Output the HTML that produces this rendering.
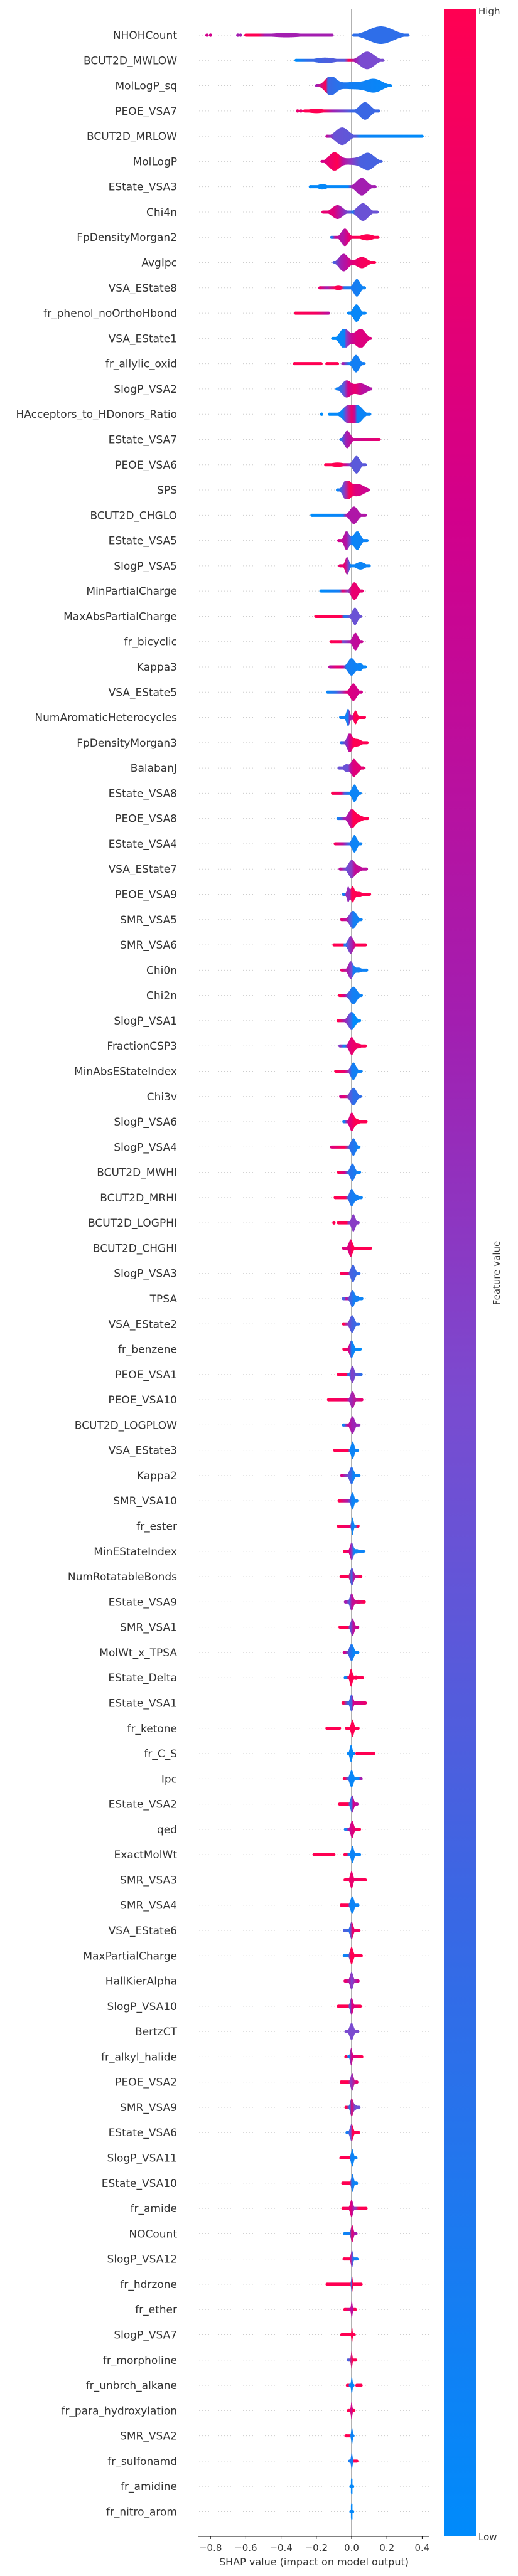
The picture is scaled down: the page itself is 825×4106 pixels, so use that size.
<!DOCTYPE html>
<html>
<head>
<meta charset="utf-8">
<style>
  html,body{margin:0;padding:0;background:#fff;}
  body{width:825px;height:4101px;overflow:hidden;}
  svg text{font-family:"DejaVu Sans","Liberation Sans",sans-serif;}
</style>
</head>
<body>
<svg id="chart" width="825" height="4101" viewBox="0 0 825 4101" xmlns="http://www.w3.org/2000/svg">
  <defs>
    <linearGradient id="cbar" x1="0" y1="0" x2="0" y2="1">
      <stop offset="0" stop-color="#ff0052"/>
      <stop offset="0.2" stop-color="#d2008b"/>
      <stop offset="0.4" stop-color="#a31eb0"/>
      <stop offset="0.55" stop-color="#7a4bd0"/>
      <stop offset="0.75" stop-color="#3a67e4"/>
      <stop offset="1" stop-color="#008bfb"/>
    </linearGradient>
  </defs>
  <g id="grid"></g>
  <line x1="560" y1="15" x2="560" y2="4043" stroke="#999" stroke-width="1.5"/>
  <g id="violins"></g>
  <g id="labels"></g>
  <g id="xaxis">
    <line x1="316" y1="4043" x2="684" y2="4043" stroke="#000" stroke-width="1"/>
  </g>
  <text x="500" y="4089" font-size="16" fill="#333" text-anchor="middle">SHAP value (impact on model output)</text>
  <rect x="707" y="15" width="51" height="4028" fill="url(#cbar)"/>
  <text x="762" y="23" font-size="15" fill="#333">High</text>
  <text x="762" y="4049" font-size="15" fill="#333">Low</text>
  <text x="0" y="0" font-size="15" fill="#333" text-anchor="middle" transform="translate(796,2029) rotate(-90)">Feature value</text>
</svg>
<script>
const features=["NHOHCount","BCUT2D_MWLOW","MolLogP_sq","PEOE_VSA7","BCUT2D_MRLOW","MolLogP","EState_VSA3","Chi4n","FpDensityMorgan2","AvgIpc","VSA_EState8","fr_phenol_noOrthoHbond","VSA_EState1","fr_allylic_oxid","SlogP_VSA2","HAcceptors_to_HDonors_Ratio","EState_VSA7","PEOE_VSA6","SPS","BCUT2D_CHGLO","EState_VSA5","SlogP_VSA5","MinPartialCharge","MaxAbsPartialCharge","fr_bicyclic","Kappa3","VSA_EState5","NumAromaticHeterocycles","FpDensityMorgan3","BalabanJ","EState_VSA8","PEOE_VSA8","EState_VSA4","VSA_EState7","PEOE_VSA9","SMR_VSA5","SMR_VSA6","Chi0n","Chi2n","SlogP_VSA1","FractionCSP3","MinAbsEStateIndex","Chi3v","SlogP_VSA6","SlogP_VSA4","BCUT2D_MWHI","BCUT2D_MRHI","BCUT2D_LOGPHI","BCUT2D_CHGHI","SlogP_VSA3","TPSA","VSA_EState2","fr_benzene","PEOE_VSA1","PEOE_VSA10","BCUT2D_LOGPLOW","VSA_EState3","Kappa2","SMR_VSA10","fr_ester","MinEStateIndex","NumRotatableBonds","EState_VSA9","SMR_VSA1","MolWt_x_TPSA","EState_Delta","EState_VSA1","fr_ketone","fr_C_S","Ipc","EState_VSA2","qed","ExactMolWt","SMR_VSA3","SMR_VSA4","VSA_EState6","MaxPartialCharge","HallKierAlpha","SlogP_VSA10","BertzCT","fr_alkyl_halide","PEOE_VSA2","SMR_VSA9","EState_VSA6","SlogP_VSA11","EState_VSA10","fr_amide","NOCount","SlogP_VSA12","fr_hdrzone","fr_ether","SlogP_VSA7","fr_morpholine","fr_unbrch_alkane","fr_para_hydroxylation","SMR_VSA2","fr_sulfonamd","fr_amidine","fr_nitro_arom"];

const xTicks=[-0.8,-0.6,-0.4,-0.2,0.0,0.2,0.4];
const xTickLabels=["\u22120.8","\u22120.6","\u22120.4","\u22120.2","0.0","0.2","0.4"];

// density bumps per feature: [mean, sd, half-height]
const bumps=[
[[0.166,0.07,14],[-0.37,0.1,3.5]],
[[0.088,0.04,14],[-0.15,0.06,4.5]],
[[-0.12,0.03,14],[0.0,0.08,5.5],[0.13,0.045,9.5]],
[[0.076,0.03,14],[-0.2,0.05,3.5]],
[[-0.054,0.035,14]],
[[-0.099,0.03,14],[0.0,0.05,5],[0.094,0.035,13]],
[[0.058,0.03,14],[-0.165,0.025,4.5]],
[[-0.08,0.03,11],[0.064,0.03,14]],
[[-0.038,0.02,14],[0.088,0.035,5]],
[[-0.045,0.025,14],[0.058,0.03,9]],
[[0.03,0.018,14],[-0.075,0.025,3.5]],
[[0.028,0.018,14]],
[[-0.045,0.022,13],[0.055,0.025,13],[0.0,0.04,6]],
[[0.025,0.018,14]],
[[-0.03,0.025,13],[0.05,0.035,9]],
[[-0.02,0.03,14],[0.04,0.025,12]],
[[-0.025,0.018,14]],
[[0.028,0.018,14],[-0.08,0.04,3.5]],
[[-0.03,0.018,14],[0.03,0.04,10]],
[[0.013,0.022,14]],
[[-0.03,0.013,14],[0.034,0.017,14],[0,0.02,4]],
[[-0.026,0.011,14],[0.05,0.025,6]],
[[0.016,0.018,14]],
[[0.019,0.015,14]],
[[0.022,0.015,14]],
[[0.0,0.02,14],[0.05,0.012,6]],
[[0.01,0.018,14]],
[[-0.02,0.01,14],[0.022,0.01,11]],
[[-0.012,0.014,14],[0.03,0.025,6]],
[[-0.03,0.015,6],[0.012,0.014,14],[0.04,0.012,5]],
[[0.016,0.014,14]],
[[0.0,0.018,14],[0.04,0.025,5]],
[[0.016,0.014,14]],
[[0.0,0.018,14],[0.04,0.02,4]],
[[-0.02,0.007,12],[0.005,0.01,12],[0.04,0.02,4]],
[[0.008,0.02,14]],
[[-0.005,0.015,14]],
[[-0.005,0.014,14],[0.04,0.018,4]],
[[0.01,0.02,14]],
[[0.0,0.02,14]],
[[0.0,0.014,14],[0.04,0.018,3.5]],
[[0.01,0.015,14]],
[[0.01,0.018,14]],
[[0.0,0.012,14],[0.03,0.018,4]],
[[0.01,0.014,14]],
[[0.005,0.013,14]],
[[0.0,0.012,14],[0.03,0.012,4]],
[[0.01,0.011,14]],
[[-0.005,0.011,14]],
[[0.008,0.012,14]],
[[0.005,0.012,14],[0.035,0.008,4]],
[[0.003,0.013,14]],
[[0.0,0.012,14]],
[[0.005,0.01,14]],
[[0.005,0.011,14]],
[[0.005,0.012,14]],
[[0.006,0.009,14]],
[[0.0,0.012,14]],
[[0.005,0.009,14]],
[[0.005,0.006,14]],
[[0.0,0.009,14],[0.03,0.013,3.5]],
[[0.002,0.01,14]],
[[0.0,0.01,14],[0.04,0.013,3.5]],
[[0.005,0.01,14]],
[[0.0,0.012,14]],
[[-0.003,0.007,14],[0.025,0.013,3.5]],
[[0.0,0.009,14]],
[[0.005,0.008,14]],
[[-0.003,0.007,14]],
[[0.0,0.01,14]],
[[0.003,0.009,14]],
[[0.003,0.009,14]],
[[0.005,0.008,14]],
[[0.0,0.008,14]],
[[0.004,0.01,14]],
[[0.0,0.009,14]],
[[0.0,0.009,14]],
[[0.0,0.009,14]],
[[0.0,0.008,14]],
[[0.0,0.011,14]],
[[-0.002,0.006,14]],
[[0.003,0.008,14]],
[[0.0,0.008,14],[0.02,0.01,4]],
[[0.0,0.009,14]],
[[0.004,0.007,14]],
[[0.005,0.007,14]],
[[0.0,0.008,14]],
[[0.003,0.007,14]],
[[0.002,0.006,14]],
[[0.002,0.004,14]],
[[0.001,0.004,14]],
[[0.002,0.003,14]],
[[0.0,0.004,14]],
[[0.001,0.004,14]],
[[0.0,0.004,14]],
[[0.002,0.004,14]],
[[0.001,0.004,14]],
[[0.001,0.006,14]],
[[0.001,0.006,14]]
];

// SHAP-value extents of each violin (segments)
const ranges=[
[[-0.60,-0.11],[0.012,0.32]],[[-0.315,0.178]],[[-0.198,0.22]],[[-0.267,0.154]],[[-0.14,0.40]],
[[-0.168,0.168]],[[-0.234,0.133]],[[-0.162,0.145]],[[-0.114,0.15]],[[-0.10,0.131]],
[[-0.18,0.073]],[[-0.318,-0.13],[-0.017,0.076]],[[-0.107,0.107]],[[-0.324,-0.173],[-0.14,-0.08],[-0.05,0.07]],[[-0.083,0.109]],
[[-0.126,0.103]],[[-0.061,0.157]],[[-0.147,0.078]],[[-0.08,0.096]],[[-0.225,0.078]],
[[-0.073,0.088]],[[-0.066,0.10]],[[-0.174,0.06]],[[-0.203,0.052]],[[-0.117,0.058]],
[[-0.123,0.078]],[[-0.136,0.055]],[[-0.062,0.073]],[[-0.059,0.088]],[[-0.071,0.067]],
[[-0.108,0.048]],[[-0.077,0.09]],[[-0.093,0.052]],[[-0.065,0.084]],[[-0.047,0.102]],
[[-0.056,0.054]],[[-0.10,0.079]],[[-0.056,0.085]],[[-0.068,0.055]],[[-0.077,0.045]],
[[-0.066,0.078]],[[-0.09,0.054]],[[-0.062,0.049]],[[-0.044,0.082]],[[-0.114,0.042]],
[[-0.075,0.045]],[[-0.093,0.055]],[[-0.075,0.037]],[[-0.047,0.109]],[[-0.059,0.042]],
[[-0.047,0.058]],[[-0.047,0.04]],[[-0.044,0.049]],[[-0.075,0.054]],[[-0.131,0.058]],
[[-0.047,0.042]],[[-0.096,0.034]],[[-0.056,0.042]],[[-0.071,0.03]],[[-0.077,0.037]],
[[-0.041,0.067]],[[-0.06,0.052]],[[-0.035,0.072]],[[-0.066,0.035]],[[-0.042,0.035]],
[[-0.036,0.061]],[[-0.049,0.078]],[[-0.14,-0.068],[-0.029,0.037]],[[-0.018,0.012],[0.03,0.126]],[[-0.042,0.054]],
[[-0.068,0.031]],[[-0.035,0.045]],[[-0.213,-0.1],[-0.038,0.045]],[[-0.037,0.078]],[[-0.059,0.036]],
[[-0.041,0.042]],[[-0.042,0.055]],[[-0.037,0.037]],[[-0.075,0.049]],[[-0.032,0.035]],
[[-0.018,0.058]],[[-0.059,0.03]],[[-0.032,0.042]],[[-0.026,0.04]],[[-0.061,0.025]],
[[-0.05,0.028]],[[-0.049,0.082]],[[-0.04,0.025]],[[-0.043,0.031]],[[-0.139,0.054]],
[[-0.038,0.021]],[[-0.056,0.015]],[[-0.02,0.024]],[[-0.024,-0.011],[-0.008,0.008],[0.03,0.054]],[[-0.018,0.013]],
[[-0.032,0.008]],[[-0.011,0.03]],[[-0.004,0.006]],[[-0.004,0.006]]
];

// feature-value colour along SHAP axis: [shap, value 0(low)..1(high)]
const colorStops=[
[[-0.6,1],[-0.53,1],[-0.49,0.6],[-0.11,0.6],[0.01,0.2],[0.32,0.2]],
[[-0.315,0],[-0.25,0.2],[-0.15,0.3],[-0.04,0.35],[-0.015,1],[0.02,0.6],[0.05,0.45],[0.178,0.45]],
[[-0.198,0.6],[-0.145,1],[-0.135,0.25],[0,0.08],[0.22,0.02]],
[[-0.267,1],[-0.16,1],[-0.11,0.6],[-0.02,0.35],[0.0,0.25],[0.154,0.25]],
[[-0.14,0.7],[-0.1,0.4],[0.02,0.35],[0.05,0.05],[0.4,0.0]],
[[-0.168,0.8],[-0.13,0.9],[-0.08,1],[-0.05,0.7],[0,0.5],[0.05,0.3],[0.168,0.28]],
[[-0.234,0.02],[-0.02,0.02],[0.0,0.6],[0.133,0.6]],
[[-0.162,0.9],[-0.1,0.85],[-0.06,0.6],[-0.01,0.35],[0.005,0.1],[0.02,0.4],[0.145,0.4]],
[[-0.114,0.15],[-0.09,0.75],[-0.05,0.65],[-0.02,0.85],[0.0,0.95],[0.03,1],[0.15,1]],
[[-0.1,0.3],[-0.06,0.6],[-0.03,0.7],[0,0.85],[0.05,0.95],[0.131,1]],
[[-0.18,0.9],[-0.14,0.6],[-0.09,1],[-0.06,1],[-0.04,0.15],[0.073,0.05]],
[[-0.318,1],[-0.2,0.95],[-0.13,0.7],[-0.02,0.03],[0.076,0.03]],
[[-0.107,0],[-0.04,0.05],[-0.03,0.5],[0,0.75],[0.03,0.85],[0.107,0.85]],
[[-0.324,1],[-0.08,1],[-0.05,0.6],[-0.015,0.08],[0.07,0.08]],
[[-0.083,0.05],[-0.04,0.4],[-0.02,0.8],[0.02,0.9],[0.06,0.7],[0.109,0.65]],
[[-0.126,0],[-0.05,0.05],[-0.03,0.5],[0,0.9],[0.02,0.7],[0.03,0.05],[0.103,0.05]],
[[-0.061,0.2],[-0.03,0.6],[0,0.75],[0.157,0.9]],
[[-0.147,1],[-0.06,1],[-0.03,0.7],[0,0.35],[0.078,0.35]],
[[-0.08,0.05],[-0.04,0.5],[-0.01,1],[0.02,0.85],[0.096,0.75]],
[[-0.225,0],[-0.05,0.05],[-0.03,0.65],[0.078,0.65]],
[[-0.073,0.8],[-0.03,0.65],[-0.01,0.4],[0,0.05],[0.088,0.05]],
[[-0.066,0.9],[-0.04,0.9],[-0.02,0.5],[-0.005,0.05],[0.1,0.05]],
[[-0.174,0],[-0.07,0.1],[-0.05,0.9],[-0.02,0.5],[0,0.9],[0.06,0.9]],
[[-0.203,1],[-0.06,1],[-0.04,0.1],[-0.01,0.4],[0.052,0.4]],
[[-0.117,1],[-0.06,0.95],[-0.05,0.4],[0,0.7],[0.058,0.75]],
[[-0.123,0.7],[-0.08,0.9],[-0.05,0.8],[-0.03,0.1],[0.078,0.03]],
[[-0.136,0.05],[-0.09,0.2],[-0.06,0.5],[-0.03,0.85],[0.055,0.8]],
[[-0.062,0.05],[-0.02,0.1],[-0.01,0.6],[0.005,0.7],[0.015,1],[0.073,1]],
[[-0.059,0.2],[-0.02,0.6],[-0.01,0.8],[0.01,1],[0.088,1]],
[[-0.071,0.4],[-0.02,0.4],[-0.005,0.7],[0.01,0.85],[0.067,0.9]],
[[-0.108,1],[-0.06,0.9],[-0.04,0.3],[-0.01,0.05],[0.048,0.05]],
[[-0.077,0.1],[-0.04,0.6],[-0.01,0.7],[0.01,1],[0.09,1]],
[[-0.093,0.95],[-0.05,0.7],[-0.02,0.3],[0,0.05],[0.052,0.05]],
[[-0.065,0.7],[-0.03,0.4],[0,0.5],[0.02,0.75],[0.084,0.7]],
[[-0.047,0.1],[-0.03,0.55],[-0.01,0.55],[0,1],[0.102,1]],
[[-0.056,0.85],[-0.03,0.7],[-0.01,0.4],[0.01,0.1],[0.054,0.05]],
[[-0.1,1],[-0.05,1],[-0.04,0.05],[-0.02,0.4],[0.01,0.7],[0.03,1],[0.079,1]],
[[-0.056,0.9],[-0.02,0.6],[0,0.45],[0.01,0.1],[0.085,0.05]],
[[-0.068,1],[-0.04,0.8],[-0.02,0.3],[0,0.1],[0.055,0.05]],
[[-0.077,1],[-0.04,0.6],[-0.01,0.35],[0.01,0],[0.045,0]],
[[-0.066,0.5],[-0.04,0.05],[-0.02,0.8],[0,0.9],[0.078,1]],
[[-0.09,1],[-0.04,0.9],[-0.015,0.5],[0,0.1],[0.054,0.05]],
[[-0.062,0.8],[-0.04,0.9],[-0.01,0.35],[0.01,0.2],[0.049,0.2]],
[[-0.044,0.1],[-0.02,0.8],[0,0.9],[0.02,1],[0.082,1]],
[[-0.114,0.85],[-0.04,1],[-0.01,0.2],[0.042,0.05]],
[[-0.075,1],[-0.04,0.8],[-0.02,0.2],[0.045,0.05]],
[[-0.093,1],[-0.035,1],[-0.02,0.25],[0,0.1],[0.055,0.05]],
[[-0.1,1],[-0.03,1],[-0.015,0.5],[0.037,0.5]],
[[-0.047,0.85],[-0.01,0.85],[0,1],[0.109,1]],
[[-0.059,1],[-0.02,0.9],[-0.01,0.3],[0.042,0.2]],
[[-0.047,0.3],[-0.03,0.7],[-0.01,0.3],[0.01,0.1],[0.058,0.05]],
[[-0.047,1],[-0.02,0.5],[0,0.3],[0.04,0.2]],
[[-0.044,1],[-0.015,0.8],[0,0.05],[0.049,0]],
[[-0.075,1],[-0.03,1],[-0.02,0.05],[0,0.5],[0.054,0.2]],
[[-0.131,1],[-0.03,0.9],[-0.01,0.55],[0.058,0.9]],
[[-0.047,0.1],[-0.02,0.8],[0,0.6],[0.042,0.55]],
[[-0.096,1],[-0.02,1],[-0.01,0.05],[0.034,0.05]],
[[-0.056,0.8],[-0.02,0.4],[0,0.2],[0.01,0.05],[0.042,0.05]],
[[-0.071,1],[-0.02,0.6],[0,0.05],[0.03,0.05]],
[[-0.077,1],[-0.01,0.9],[0,0.05],[0.02,0.05],[0.037,1]],
[[-0.041,1],[-0.01,0.8],[0,0.5],[0.015,0.05],[0.067,0.05]],
[[-0.06,1],[-0.02,1],[0,0.2],[0.01,0.6],[0.052,1]],
[[-0.035,0.6],[-0.01,0.3],[0,0.7],[0.072,1]],
[[-0.066,1],[-0.02,1],[-0.01,0.3],[0.01,0.7],[0.035,0.8]],
[[-0.042,0.8],[-0.01,0.2],[0.01,0.05],[0.035,0.05]],
[[-0.036,0.05],[-0.015,1],[0.061,1]],
[[-0.049,1],[-0.02,0.2],[0,0.3],[0.01,0.8],[0.078,0.9]],
[[-0.14,1],[0.037,1]],
[[-0.018,0.03],[0.012,0.03],[0.03,1],[0.126,1]],
[[-0.042,1],[-0.02,0.3],[-0.01,0.03],[0.04,0.03],[0.054,0.6]],
[[-0.068,1],[-0.02,1],[-0.01,0.1],[0,0.3],[0.01,0.8],[0.031,0.7]],
[[-0.035,0.1],[-0.015,0.7],[0.005,0.85],[0.045,1]],
[[-0.213,1],[-0.03,1],[-0.015,0.05],[0.045,0.05]],
[[-0.037,1],[0,0.9],[0.078,1]],
[[-0.059,1],[-0.02,1],[-0.01,0.05],[0.036,0.05]],
[[-0.041,0.3],[-0.01,0.2],[0.005,0.9],[0.042,0.95]],
[[-0.042,0.05],[-0.02,0.1],[-0.005,1],[0.055,1]],
[[-0.037,0.9],[-0.01,0.6],[0,0.45],[0.037,0.8]],
[[-0.075,1],[-0.02,1],[-0.01,0.2],[0,0.8],[0.049,1]],
[[-0.032,0.45],[0.035,0.45]],
[[-0.032,1],[-0.018,0.05],[0,0.8],[0.058,1]],
[[-0.059,1],[-0.02,1],[-0.005,0.5],[0.03,0.9]],
[[-0.032,1],[-0.01,0.1],[0,0.9],[0.02,0.4],[0.042,0.4]],
[[-0.026,0.1],[-0.005,0.4],[0.005,1],[0.04,1]],
[[-0.061,1],[-0.01,1],[-0.005,0.05],[0.025,0.05]],
[[-0.05,1],[-0.01,1],[0,0.1],[0.028,0.05]],
[[-0.049,1],[-0.01,0.9],[0,0.8],[0.02,0.5],[0.04,1],[0.082,1]],
[[-0.04,0.05],[-0.01,0.1],[0,0.9],[0.025,0.6]],
[[-0.043,1],[-0.01,1],[0,0.5],[0.01,0.1],[0.031,0.05]],
[[-0.139,1],[-0.01,1],[0,0.15],[0.005,1],[0.054,1]],
[[-0.038,1],[-0.005,0.7],[0.005,0.7],[0.021,1]],
[[-0.056,1],[0.015,1]],
[[-0.02,0.3],[0.005,1],[0.024,1]],
[[-0.024,1],[-0.011,1],[-0.008,0.05],[0.008,0.05],[0.03,1],[0.054,1]],
[[-0.018,1],[0,0.75],[0.013,1]],
[[-0.032,1],[-0.01,1],[-0.005,0.05],[0.008,0.05]],
[[-0.011,0.1],[0.008,0.1],[0.012,1],[0.03,1]],
[[-0.004,0.02],[0.006,0.02]],
[[-0.004,0.02],[0.006,0.02]]
];

// isolated outlier dots: [shap, value]
const dots={0:[[-0.82,0.8],[-0.80,0.8],[-0.645,0.6],[-0.63,0.6]],3:[[-0.306,0.9],[-0.287,0.9]],15:[[-0.17,0]],47:[[-0.10,1]],80:[[-0.032,1]]};

const SVGNS="http://www.w3.org/2000/svg";
const X0=560, XS=281, Y0=56, DY=40.28;
function xScale(s){return X0+s*XS;}
function yRow(i){return Y0+i*DY;}
const cmap=[[0,[0,139,251]],[0.25,[58,103,228]],[0.45,[122,75,208]],[0.6,[163,30,176]],[0.8,[210,0,139]],[1,[255,0,82]]];
function colorOf(c){
  c=Math.max(0,Math.min(1,c));
  for(let k=1;k<cmap.length;k++){
    if(c<=cmap[k][0]){
      const a=cmap[k-1],b=cmap[k],t=(c-a[0])/(b[0]-a[0]);
      const r=a[1].map((v,j)=>Math.round(v+(b[1][j]-v)*t));
      return "rgb("+r.join(",")+")";
    }
  }
  return "rgb(255,0,82)";
}
function valAt(stops,s){
  if(s<=stops[0][0])return stops[0][1];
  for(let k=1;k<stops.length;k++){
    if(s<=stops[k][0]){const a=stops[k-1],b=stops[k];const t=(s-a[0])/((b[0]-a[0])||1);return a[1]+(b[1]-a[1])*t;}
  }
  return stops[stops.length-1][1];
}
function mk(tag,attrs){const e=document.createElementNS(SVGNS,tag);for(const k in attrs)e.setAttribute(k,attrs[k]);return e;}

const svg=document.getElementById("chart");
const defs=svg.querySelector("defs");
const grid=document.getElementById("grid");
const vg=document.getElementById("violins");
const lg=document.getElementById("labels");
const xg=document.getElementById("xaxis");

features.forEach((name,i)=>{
  const y=yRow(i);
  const gl=mk("line",{x1:317,x2:687,y1:y,y2:y,stroke:"#cccccc","stroke-width":1,"stroke-dasharray":"1,4"});
  
  
  grid.appendChild(gl);

  const t=mk("text",{x:282,y:y+6,"font-size":"17","text-anchor":"end",fill:"#333"});
  t.textContent=name;
  
  
  lg.appendChild(t);

  // gradient
  const st=colorStops[i];
  const gx1=xScale(st[0][0]), gx2=xScale(st[st.length-1][0]);
  const grad=mk("linearGradient",{id:"g"+i,gradientUnits:"userSpaceOnUse",x1:gx1,y1:0,x2:Math.max(gx2,gx1+1),y2:0});
  const span=(st[st.length-1][0]-st[0][0])||1;
  st.forEach(p=>{grad.appendChild(mk("stop",{offset:((p[0]-st[0][0])/span).toFixed(4),"stop-color":colorOf(p[1])}));});
  defs.appendChild(grad);

  const grp=mk("g",{});
  
  
  ranges[i].forEach(seg=>{
    const xa=xScale(seg[0]), xb=xScale(seg[1]);
    const top=[],bot=[];
    for(let px=xa;px<=xb+0.01;px+=0.5){
      const s=(px-X0)/XS;
      let h=0;
      bumps[i].forEach(b=>{h+=b[2]*Math.exp(-0.5*Math.pow((s-b[0])/b[1],2));});
      h=Math.min(14.5,Math.max(2.5,h));
      top.push(px.toFixed(1)+","+(y-h).toFixed(2));
      bot.unshift(px.toFixed(1)+","+(y+h).toFixed(2));
    }
    const p=mk("path",{d:"M"+top.join(" L")+" L"+bot.join(" L")+" Z",fill:"url(#g"+i+")"});
    grp.appendChild(p);
    [seg[0],seg[1]].forEach(s=>{
      grp.appendChild(mk("circle",{cx:xScale(s),cy:y,r:2.5,fill:colorOf(valAt(st,s))}));
    });
  });
  (dots[i]||[]).forEach(d=>{
    const c=mk("circle",{cx:xScale(d[0]),cy:y,r:2.7,fill:colorOf(d[1])});
    
    
    grp.appendChild(c);
  });
  vg.appendChild(grp);
});

xTicks.forEach((v,k)=>{
  const x=xScale(v);
  const tk=mk("line",{x1:x,x2:x,y1:4043,y2:4047,stroke:"#000","stroke-width":1});
  
  
  xg.appendChild(tk);
  const tl=mk("text",{x:x,y:4066,"font-size":"15","text-anchor":"middle",fill:"#333"});
  tl.textContent=xTickLabels[k];
  
  
  xg.appendChild(tl);
});
</script>
</body>
</html>
